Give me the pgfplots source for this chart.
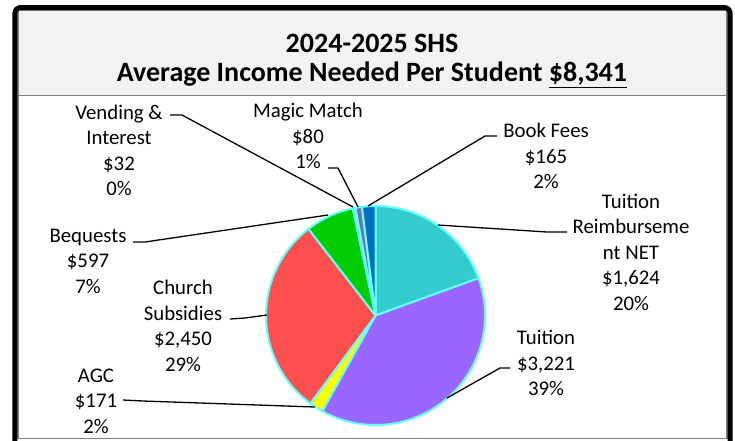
\documentclass[border=0pt]{standalone}
\usepackage{pgfplots}
\pgfplotsset{compat=1.18}
\usepackage{pgfplotstable}
\usepackage{fontspec}
\setmainfont{Carlito}

\definecolor{pcol0}{HTML}{33CCCC}
\definecolor{pcol1}{HTML}{9966FF}
\definecolor{pcol2}{HTML}{FFFF00}
\definecolor{pcol3}{HTML}{FF5050}
\definecolor{pcol4}{HTML}{00CC00}
\definecolor{pcol5}{HTML}{99FFFF}
\definecolor{pcol6}{HTML}{7A6EAA}
\definecolor{pcol7}{HTML}{0070C0}
\definecolor{pieborder}{HTML}{66FFFF}
\definecolor{titlefill}{HTML}{F2F2F2}
\definecolor{framegray}{HTML}{7F7F7F}

\tikzset{lbl/.style={font=\fontsize{20.8}{25.5}\selectfont, align=center, text=black, inner sep=0pt}}

% slices, clockwise from 12 o'clock
\pgfplotstableread{
name value
TuitionReimbursement 1624
Tuition 3221
AGC 171
Church 2450
Bequests 597
Vending 32
MagicMatch 80
BookFees 165
}\piedata

\def\pcx{375.5}
\def\pcy{315.5}
\def\prad{109.5pt}

\def\total{0}
\pgfplotsforeachungrouped \i in {0,...,7}{%
  \pgfplotstablegetelem{\i}{value}\of\piedata
  \pgfmathsetmacro\total{\total+\pgfplotsretval}%
}
\def\cum{0}
\def\piecmds{}
\pgfplotsforeachungrouped \i in {0,...,7}{%
  \pgfplotstablegetelem{\i}{value}\of\piedata
  \pgfmathsetmacro\aS{90-(\cum/\total)*360}%
  \pgfmathsetmacro\cum{\cum+\pgfplotsretval}%
  \pgfmathsetmacro\aE{90-(\cum/\total)*360}%
  \edef\piecmds{\expandafter\unexpanded\expandafter{\piecmds}%
    \noexpand\filldraw[fill=pcol\i, draw=pieborder, line width=2pt, line join=round]
    (axis cs:\pcx,\pcy) -- ++(\aS:\prad) arc[start angle=\aS, end angle=\aE, radius=\prad] -- cycle;}%
}

\begin{document}
\begin{tikzpicture}
\begin{axis}[
  at={(0,0)}, anchor=south west,
  scale only axis, width=735pt, height=440pt,
  xmin=0, xmax=735, ymin=0, ymax=440, y dir=reverse,
  hide axis, clip=false,
]
% frame
\fill[titlefill] (axis cs:17.5,10) rectangle (axis cs:727,95.5);
\draw[framegray, line width=1.4pt] (axis cs:17.8,95.5) -- (axis cs:726.8,95.5);
\draw[framegray, line width=1.4pt] (axis cs:17.8,10) rectangle (axis cs:726.8,438.3);
\draw[black, line width=5pt, rounded corners=6pt] (axis cs:14.8,7.5) rectangle (axis cs:730.2,470);

% title
\node[font=\fontsize{28}{34}\selectfont\bfseries, inner sep=0pt] at (axis cs:372,43) {2024-2025 SHS};
\node[font=\fontsize{28}{34}\selectfont\bfseries, inner sep=0pt] at (axis cs:372,75) {Average Income Needed Per Student \underline{\$8,341}};

% pie
\piecmds

% leader lines
\addplot[black, line width=1.3pt, line join=round] coordinates {(170,115) (182,115) (353,207)};
\addplot[black, line width=1.3pt, line join=round] coordinates {(328,168) (338,168) (358,207)};
\addplot[black, line width=1.3pt, line join=round] coordinates {(497,136) (485,136) (368,206)};
\addplot[black, line width=1.3pt, line join=round] coordinates {(567,232) (547,232) (438,225)};
\addplot[black, line width=1.3pt, line join=round] coordinates {(510,368) (500,368) (447,398)};
\addplot[black, line width=1.3pt, line join=round] coordinates {(123,400) (143,401) (315,407)};
\addplot[black, line width=1.3pt, line join=round] coordinates {(230,319) (245,318) (267,315)};
\addplot[black, line width=1.3pt, line join=round] coordinates {(133,242) (145,242) (328,215)};

% labels
\node[lbl] at (axis cs:119,150.5) {Vending \&\\Interest\\\$32\\0\%};
\node[lbl] at (axis cs:308,136) {Magic Match\\\$80\\1\%};
\node[lbl] at (axis cs:546,156) {Book Fees\\\$165\\2\%};
\node[lbl] at (axis cs:631,252) {Tuition\\Reimburseme\\nt NET\\\$1,624\\20\%};
\node[lbl] at (axis cs:546,363) {Tuition\\\$3,221\\39\%};
\node[lbl] at (axis cs:96,401) {AGC\\\$171\\2\%};
\node[lbl] at (axis cs:183,326) {Church\\Subsidies\\\$2,450\\29\%};
\node[lbl] at (axis cs:88,261) {Bequests\\\$597\\7\%};
\end{axis}
\pgfresetboundingbox
\path[use as bounding box] (0,0) rectangle (735pt,440pt);
\end{tikzpicture}
\end{document}
